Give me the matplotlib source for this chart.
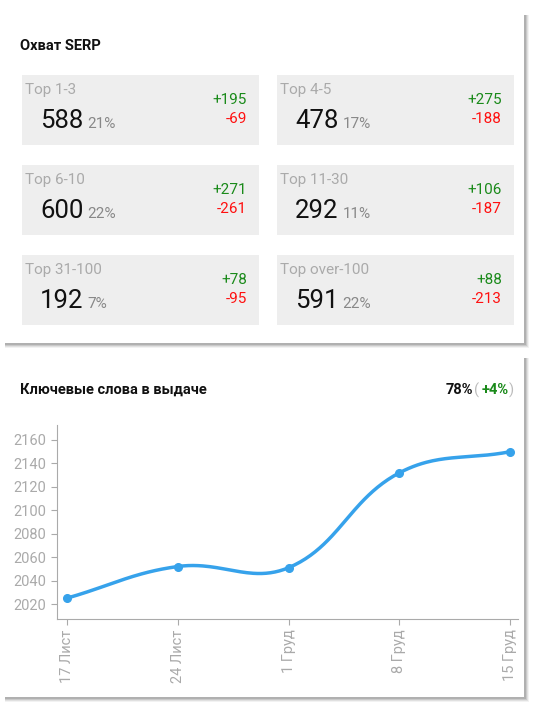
import matplotlib
matplotlib.use("Agg")
import matplotlib.pyplot as plt
from matplotlib.patches import Rectangle
import numpy as np

plt.rcParams['font.family'] = ['Roboto', 'DejaVu Sans']

tile_labels = ["Top 1-3", "Top 4-5", "Top 6-10", "Top 11-30", "Top 31-100", "Top over-100"]
tile_values = [588, 478, 600, 292, 192, 591]
tile_pcts = ["21%", "17%", "22%", "11%", "7%", "22%"]
tile_plus = ["+195", "+275", "+271", "+106", "+78", "+88"]
tile_minus = ["-69", "-188", "-261", "-187", "-95", "-213"]

dates = ["17 Лист", "24 Лист", "1 Груд", "8 Груд", "15 Груд"]
keywords = [2025, 2052, 2051, 2132, 2150]
yticks = [2020, 2040, 2060, 2080, 2100, 2120, 2140, 2160]

W, H = 548, 707
fig = plt.figure(figsize=(W/100, H/100), dpi=100)
fig.patch.set_facecolor("white")
bg = fig.add_axes([0, 0, 1, 1])
bg.set_xlim(0, W); bg.set_ylim(H, 0); bg.axis("off")

def card(x0, y0, x1, y1):
    for d, a in [(4, 0.05), (3, 0.07), (2, 0.1), (1, 0.12)]:
        bg.add_patch(Rectangle((x0 + 1, y0 + 1), x1 - x0 + d, y1 - y0 + d, color="black", alpha=a, lw=0))
    bg.add_patch(Rectangle((x0, y0), x1 - x0, y1 - y0, color="white", lw=0))

card(4, 14, 524, 343)
card(4, 357, 524, 697)

bg.text(20, 46, "Охват SERP", fontsize=10.5, fontweight="bold", color="#111", va="center")

xs = [22, 277]
ys = [75, 165, 255]
for i in range(6):
    x0 = xs[i % 2]; y0 = ys[i // 2]
    bg.add_patch(Rectangle((x0, y0), 237, 70, color="#eeeeee", lw=0))
    bg.text(x0 + 3, y0 + 15, tile_labels[i], fontsize=11, color="#aaaaaa", va="center")
    t = bg.text(x0 + 18, y0 + 53, str(tile_values[i]), fontsize=18.5, color="#111", va="baseline")
    fig.canvas.draw()
    bb = t.get_window_extent()
    xr = bg.transData.inverted().transform((bb.x1, 0))[0]
    bg.text(xr + 4, y0 + 53, tile_pcts[i], fontsize=11, color="#888", va="baseline")
    bg.text(x0 + 225, y0 + 25, tile_plus[i], fontsize=11, color="#1a8a1a", ha="right", va="center")
    bg.text(x0 + 225, y0 + 44, tile_minus[i], fontsize=11, color="#ff1010", ha="right", va="center")

bg.text(20, 390, "Ключевые слова в выдаче", fontsize=10.5, fontweight="bold", color="#111", va="center")
bg.text(514, 390, ")", fontsize=10.5, color="#bbb", ha="right", va="center")
bg.text(509, 390, "+4%", fontsize=10.5, fontweight="bold", color="#1a8a1a", ha="right", va="center")
bg.text(479, 390, "(", fontsize=10.5, color="#bbb", ha="right", va="center")
bg.text(473, 390, "78%", fontsize=10.5, fontweight="bold", color="#111", ha="right", va="center")

ax = fig.add_axes([57/W, 1 - 619/H, (518-57)/W, (619-425)/H])
ax.set_facecolor("none")
x = np.arange(len(keywords), dtype=float)
y = np.array(keywords, dtype=float)
# Chart.js-style bezier spline (tension 0.4) computed in pixel space
sx, sy = 110.75, 1.17
px, py = x * sx, y * sy
n = len(x)
cps = []
for i in range(n):
    pi = max(i - 1, 0); ni = min(i + 1, n - 1)
    d01 = np.hypot(px[i]-px[pi], py[i]-py[pi]); d12 = np.hypot(px[ni]-px[i], py[ni]-py[i])
    tot = d01 + d12
    s01 = d01 / tot if tot else 0; s12 = d12 / tot if tot else 0
    fa, fb = 0.4 * s01, 0.4 * s12
    dx, dy = px[ni]-px[pi], py[ni]-py[pi]
    cps.append(((px[i]-fa*dx, py[i]-fa*dy), (px[i]+fb*dx, py[i]+fb*dy)))
cx, cy = [], []
t = np.linspace(0, 1, 50)[:, None]
for i in range(n - 1):
    P0 = np.array([px[i], py[i]]); P1 = np.array(cps[i][1]); P2 = np.array(cps[i+1][0]); P3 = np.array([px[i+1], py[i+1]])
    B = (1-t)**3*P0 + 3*(1-t)**2*t*P1 + 3*(1-t)*t**2*P2 + t**3*P3
    cx.extend(B[:, 0] / sx); cy.extend(B[:, 1] / sy)
ax.plot(cx, cy, color="#36a2eb", lw=2.5, solid_capstyle="round")
ax.plot(x, y, "o", color="#36a2eb", ms=5.5)
ax.set_xlim(-0.09, 4.07)
ax.set_ylim(2007.2, 2172.8)
ax.set_yticks(yticks)
ax.set_xticks(x)
ax.set_xticklabels(dates, rotation=90)
for s in ["top", "right"]:
    ax.spines[s].set_visible(False)
for s in ["left", "bottom"]:
    ax.spines[s].set_color("#aaaaaa")
ax.tick_params(colors="#aaaaaa", labelcolor="#aaaaaa", labelsize=10.5, length=4)
fig.savefig("out.png", dpi=100)
